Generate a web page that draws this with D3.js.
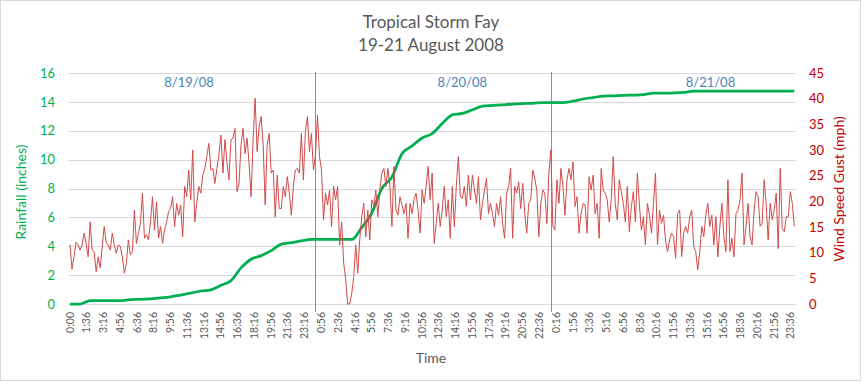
<!DOCTYPE html>
<html>
<head>
<meta charset="utf-8">
<script src="https://cdn.jsdelivr.net/npm/d3@7"></script>
<style>
  body { margin: 0; background: #fff; }
  text { font-family: Lato, "Open Sans", sans-serif; }
</style>
</head>
<body>
<div id="chart"></div>
<script>
// wind gust (mph), one reading every 12 minutes, one array per day
const windDay1 = [
  11.5, 6.8, 9.2, 12.0, 11.5, 10.5, 11.5, 13.8, 11.8, 9.2,
  16.0, 10.5, 10.2, 6.3, 9.2, 7.0, 11.2, 15.1, 11.8, 11.5,
  10.5, 13.8, 11.5, 9.9, 11.5, 11.2, 9.2, 6.0, 7.9, 12.5,
  9.6, 10.2, 18.3, 11.8, 13.8, 15.7, 21.6, 12.8, 13.5, 12.5,
  16.0, 20.9, 14.4, 19.9, 12.8, 15.1, 11.8, 14.4, 16.0, 18.0,
  18.6, 20.9, 15.1, 19.6, 17.3, 19.3, 13.1, 22.9, 20.9, 26.1,
  20.3, 30.0, 16.0, 19.6, 22.9, 21.6, 25.1, 26.4, 28.7, 31.3,
  26.1, 26.4, 23.5, 26.4, 29.0, 32.9, 25.5, 32.0, 27.7, 24.2,
  32.0, 32.3, 34.2, 21.9, 23.5, 31.0, 34.2, 29.3, 32.3, 27.4,
  20.9, 32.0, 40.1, 29.7, 34.5, 36.5, 31.0, 19.3, 31.0, 33.2,
  25.5, 26.1, 17.0, 25.1, 18.6, 18.6, 22.9, 20.9, 24.8, 21.6,
  17.3, 22.9, 26.1, 26.4, 25.5, 33.2, 24.2, 33.6, 36.5, 29.7
];
const windDay2 = [
  33.2, 26.1, 29.0, 36.8, 28.7, 26.1, 16.4, 21.6, 19.3, 22.2,
  15.1, 22.9, 20.3, 22.9, 11.5, 16.0, 8.0, 5.0, 0, 0,
  2.0, 5.2, 11.5, 6.0, 12.5, 17.0, 19.6, 13.1, 18.3, 12.5,
  20.3, 19.0, 22.2, 17.0, 22.2, 25.5, 26.4, 22.9, 26.4, 22.9,
  15.1, 26.8, 18.3, 17.3, 20.9, 19.3, 17.6, 19.6, 12.8, 19.6,
  17.6, 20.3, 21.6, 18.3, 13.8, 22.2, 19.6, 22.9, 26.8, 20.3,
  25.5, 11.8, 15.7, 19.6, 15.1, 18.3, 22.9, 17.0, 20.3, 12.8,
  22.9, 15.1, 22.9, 28.7, 20.9, 20.6, 22.9, 19.0, 25.1, 20.3,
  25.1, 22.2, 19.6, 24.8, 16.4, 19.6, 22.2, 24.5, 17.6, 19.6,
  17.6, 15.1, 19.6, 17.3, 20.9, 15.7, 12.8, 21.6, 22.9, 26.4,
  12.8, 22.9, 21.6, 23.8, 18.6, 23.5, 17.6, 13.8, 19.6, 20.3,
  26.1, 24.5, 22.2, 13.1, 19.6, 22.2, 21.6, 15.7, 25.5, 30.0
];
const windDay3 = [
  15.1, 14.4, 24.2, 19.6, 26.4, 22.9, 17.3, 24.2, 26.4, 24.2,
  27.7, 19.0, 20.9, 13.8, 17.6, 19.6, 19.3, 13.8, 24.8, 22.2,
  25.1, 17.6, 19.6, 12.8, 26.4, 22.2, 21.6, 20.3, 16.0, 20.3,
  28.7, 19.6, 16.4, 24.2, 21.9, 19.6, 16.0, 22.9, 14.1, 19.0,
  21.9, 16.0, 25.5, 19.3, 14.4, 17.0, 11.5, 19.6, 17.3, 13.8,
  19.6, 25.5, 11.5, 18.3, 15.7, 17.3, 12.2, 10.2, 12.5, 13.8,
  13.1, 8.9, 17.6, 18.3, 9.2, 13.8, 15.1, 13.8, 17.0, 18.3,
  11.2, 10.2, 6.6, 10.2, 15.1, 13.1, 17.3, 19.6, 15.1, 17.3,
  11.5, 17.0, 9.2, 15.1, 19.6, 13.1, 10.2, 24.2, 10.2, 12.8,
  9.2, 17.6, 18.3, 20.3, 25.5, 11.5, 15.1, 19.6, 13.1, 11.5,
  18.3, 21.9, 20.9, 15.1, 15.7, 24.2, 19.6, 12.5, 19.6, 16.4,
  18.3, 21.6, 10.8, 26.4, 14.7, 14.1, 17.0, 17.0, 21.9, 19.6,
  15.1
];
// cumulative rainfall (inches), hourly from 8/19 0:00
const rainHourly = [
  0, 0, 0.23, 0.23, 0.23, 0.23, 0.3, 0.32, 0.36, 0.42,
  0.5, 0.62, 0.75, 0.9, 0.98, 1.3, 1.62, 2.5, 3.1, 3.35,
  3.7, 4.15, 4.25, 4.37, 4.47, 4.47, 4.47, 4.47, 4.47, 5.3,
  6.3, 8.0, 8.8, 10.4, 10.95, 11.5, 11.8, 12.5, 13.1, 13.2,
  13.45, 13.7, 13.75, 13.8, 13.85, 13.88, 13.9, 13.95, 13.95, 13.95,
  14.05, 14.2, 14.3, 14.4, 14.42, 14.45, 14.47, 14.5, 14.6, 14.6,
  14.62, 14.65, 14.75, 14.75, 14.75, 14.75, 14.75, 14.75, 14.75, 14.75,
  14.75, 14.75, 14.75
];
const tickLabels = [
  "0:00","1:36","3:16","4:56","6:36","8:16","9:56","11:36","13:16","14:56","16:36","18:16","19:56","21:36","23:16",
  "0:56","2:36","4:16","5:56","7:36","9:16","10:56","12:36","14:16","15:56","17:36","19:16","20:56","22:36",
  "0:16","1:56","3:36","5:16","6:56","8:36","10:16","11:56","13:36","15:16","16:56","18:36","20:16","21:56","23:36"
];
const dayNames = ["8/19/08", "8/20/08", "8/21/08"];
const dayNameMinutes = [710, 2340, 3820];   // where the date captions sit
const dayLineMinutes = [1463, 2866];        // vertical day markers
const rainTicks = [0, 2, 4, 6, 8, 10, 12, 14, 16];
const windTicks = [0, 5, 10, 15, 20, 25, 30, 35, 40, 45];

const width = 864, height = 384;
const margin = {top: 73, bottom: 80, left: 68, right: 68};

// build series with minute offsets
const wind = windDay1.concat(windDay2, windDay3).map((v, i) => ({t: i * 12, v: v}));
const rain = rainHourly.map((v, i) => ({t: i * 60, v: v}));

let day = 0, prev = -1;
const ticks = tickLabels.map(s => {
  const p = s.split(":");
  const m = +p[0] * 60 + +p[1];
  if (m < prev) day++;
  prev = m;
  return {label: s, t: day * 1440 + m};
});

const svg = d3.select("#chart").append("svg")
  .attr("width", width)
  .attr("height", height);

svg.append("rect")
  .attr("x", 0.5).attr("y", 0.5)
  .attr("width", 860).attr("height", 380)
  .attr("fill", "#fff")
  .attr("stroke", "#d9d9d9");

const xScale = d3.scaleLinear()
  .domain([-12, 4330])
  .range([margin.left, width - margin.right]);

const yRain = d3.scaleLinear()
  .domain([0, 16])
  .range([height - margin.bottom, margin.top]);

const yWind = d3.scaleLinear()
  .domain([0, 45])
  .range([height - margin.bottom, margin.top]);

// gridlines
svg.append("g")
  .selectAll("line")
  .data(rainTicks)
  .enter()
  .append("line")
  .attr("x1", margin.left)
  .attr("x2", width - margin.right)
  .attr("y1", d => Math.round(yRain(d)) + 0.5)
  .attr("y2", d => Math.round(yRain(d)) + 0.5)
  .attr("stroke", "#d9d9d9");

// left axis
const leftAxis = svg.append("g")
  .attr("transform", "translate(" + (margin.left - 10) + ",0)")
  .call(d3.axisLeft(yRain).tickValues(rainTicks).tickSize(0).tickPadding(3));
leftAxis.select(".domain").remove();
leftAxis.selectAll("text")
  .attr("fill", "#00b050")
  .style("font-family", "Lato, sans-serif")
  .style("font-size", "13px");

// right axis
const rightAxis = svg.append("g")
  .attr("transform", "translate(" + (width - margin.right + 10) + ",0)")
  .call(d3.axisRight(yWind).tickValues(windTicks).tickSize(0).tickPadding(3));
rightAxis.select(".domain").remove();
rightAxis.selectAll("text")
  .attr("fill", "#c00000")
  .style("font-family", "Lato, sans-serif")
  .style("font-size", "13px");

// bottom axis labels
const bottomAxis = svg.append("g")
  .attr("transform", "translate(0," + (height - margin.bottom) + ")")
  .call(d3.axisBottom(xScale)
    .tickValues(ticks.map(d => d.t))
    .tickFormat((d, i) => ticks[i].label)
    .tickSize(0));
bottomAxis.select(".domain").remove();
bottomAxis.selectAll("text")
  .attr("transform", "rotate(-90)")
  .attr("text-anchor", "end")
  .attr("x", -8)
  .attr("y", 0)
  .attr("dy", "0.35em")
  .attr("fill", "#595959")
  .style("font-family", "Lato, sans-serif")
  .style("font-size", "10.5px");

// day markers
svg.append("g")
  .attr("class", "day-lines")
  .selectAll("line")
  .data(dayLineMinutes)
  .enter()
  .append("line")
  .attr("x1", d => Math.round(xScale(d)) + 0.5)
  .attr("x2", d => Math.round(xScale(d)) + 0.5)
  .attr("y1", margin.top - 1)
  .attr("y2", height - margin.bottom + 8)
  .style("stroke", "#5b9bd5")
  .style("stroke-width", 1);

svg.append("g")
  .selectAll("text")
  .data(dayNames)
  .enter()
  .append("text")
  .attr("x", (d, i) => xScale(dayNameMinutes[i]))
  .attr("y", 87)
  .attr("text-anchor", "middle")
  .attr("fill", "#4f81bd")
  .style("font-size", "13px")
  .text(d => d);

// rainfall line
svg.append("path")
  .datum(rain)
  .attr("fill", "none")
  .attr("stroke", "#00b050")
  .attr("stroke-width", 2.75)
  .attr("stroke-linejoin", "round")
  .attr("d", d3.line().curve(d3.curveMonotoneX).x(d => xScale(d.t)).y(d => yRain(d.v)));

// wind line
svg.append("path")
  .datum(wind)
  .attr("fill", "none")
  .attr("stroke", "#d24a4a")
  .attr("stroke-width", 1)
  .attr("stroke-linejoin", "round")
  .attr("d", d3.line().x(d => xScale(d.t)).y(d => yWind(d.v)));

// titles
svg.append("text")
  .attr("x", 431).attr("y", 28)
  .attr("text-anchor", "middle")
  .attr("fill", "#595959")
  .style("font-size", "17px")
  .text("Tropical Storm Fay");
svg.append("text")
  .attr("x", 431).attr("y", 51)
  .attr("text-anchor", "middle")
  .attr("fill", "#595959")
  .style("font-size", "17px")
  .text("19-21 August 2008");

svg.append("text")
  .attr("x", 431).attr("y", 363)
  .attr("text-anchor", "middle")
  .attr("fill", "#595959")
  .style("font-size", "14px")
  .text("Time");

svg.append("text")
  .attr("transform", "translate(26,192) rotate(-90)")
  .attr("text-anchor", "middle")
  .attr("fill", "#00b050")
  .style("font-size", "14px")
  .text("Rainfall (inches)");

svg.append("text")
  .attr("transform", "translate(844,189) rotate(-90)")
  .attr("text-anchor", "middle")
  .attr("fill", "#c00000")
  .style("font-size", "14px")
  .text("Wind Speed Gust (mph)");
</script>
</body>
</html>
